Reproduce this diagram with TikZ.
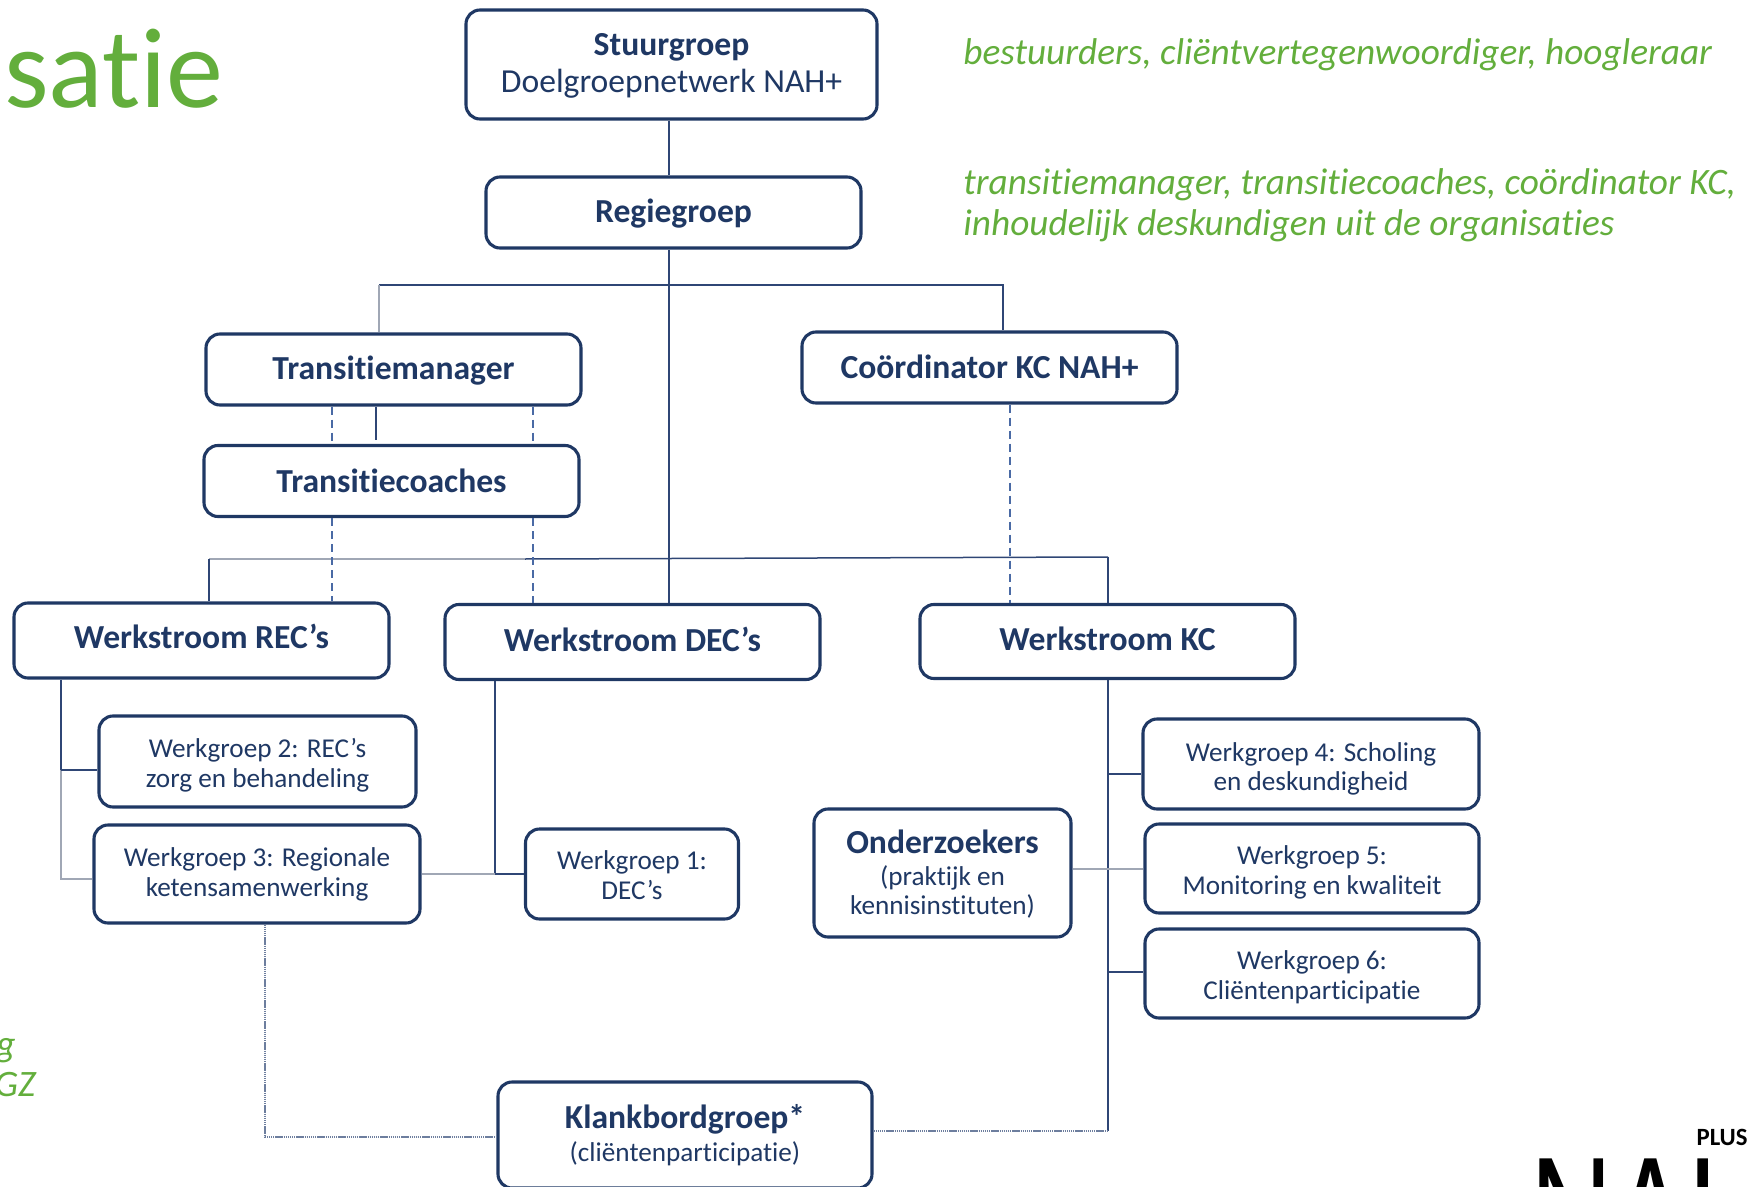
\documentclass[tikz,border=0pt]{standalone}
\usepackage{fontspec}
\setmainfont{Carlito}[RawFeature=-liga]
\newfontfamily\logofont{Liberation Sans}
\definecolor{navy}{HTML}{1F3864}
\definecolor{linec}{HTML}{2F4675}
\definecolor{lineg}{HTML}{A0A7B5}
\definecolor{dashc}{HTML}{4A6AA5}
\definecolor{groen}{HTML}{63AE3C}
% #1: how far the text is moved up inside its box, #2: the lines of text
\newcommand{\boxtext}[2]{\raisebox{0pt}[\dimexpr 8pt-#1+4pt\relax][\dimexpr 8pt+#1-4pt\relax]{\begin{tabular}{@{}c@{}}#2\end{tabular}}}
\tikzset{
  box/.style={draw=navy,line width=1.55pt,rounded corners=7pt,fill=white,text=navy,align=center,inner sep=0pt},
  big/.style={box,font=\fontsize{16.8}{18.5}\selectfont},
  small/.style={box,font=\fontsize{13.6}{14.8}\selectfont},
  conn/.style={draw=linec,line width=0.75pt},
  conngray/.style={draw=lineg,line width=0.9pt},
  dashconn/.style={draw=dashc,line width=0.6pt,dash pattern=on 4pt off 2.5pt},
  dotconn/.style={draw=linec!70,line width=0.7pt,dash pattern=on 0.7pt off 0.35pt},
  note/.style={text=groen,anchor=base west,inner sep=0pt,font=\fontsize{18.65}{21}\selectfont\itshape},
  size/.style 2 args={minimum width=#1*0.5pt,minimum height=#2*0.5pt},
}
\newcommand{\bigtxt}{\fontsize{16.8}{18.5}\selectfont\bfseries}
\begin{document}
\begin{tikzpicture}[x=0.5pt,y=-0.5pt]
\useasboundingbox (0,0) rectangle (1749,1187);
\begin{scope}
\clip (0,0) rectangle (1749,1187);
% boxes
\node[big,size={411}{109}] (stuur) at (671.5,64.5) {\boxtext{-1.6pt}{\textbf{Stuurgroep}\\Doelgroepnetwerk NAH+}};
\node[big,size={375}{71}] (regie) at (673.5,212.5) {\boxtext{-1.7pt}{\textbf{Regiegroep}}};
\node[big,size={375}{71}] (mgr) at (393.5,369.5) {\boxtext{-1.7pt}{\textbf{Transitiemanager}}};
\node[big,size={375}{71}] (coach) at (391.5,481) {\boxtext{-2.2pt}{\textbf{Transitiecoaches}}};
\node[big,size={375}{71}] (coord) at (989.5,367.5) {\boxtext{-2.2pt}{\textbf{Coördinator KC NAH+}}};
\node[big,size={375}{75}] (rec) at (201.5,640.5) {\boxtext{-0.8pt}{\textbf{Werkstroom REC’s}}};
\node[big,size={375}{75}] (dec) at (632.5,642) {\boxtext{-1.2pt}{\textbf{Werkstroom DEC’s}}};
\node[big,size={375}{74}] (kc) at (1107.5,641.5) {\boxtext{-1.2pt}{\textbf{Werkstroom KC}}};
\node[small,size={317}{91}] (wgb) at (257.5,761.5) {\boxtext{-2pt}{Werkgroep 2: REC’s\\zorg en behandeling}};
\node[small,size={326}{98}] (wgc) at (257,874) {\boxtext{-0.5pt}{Werkgroep 3: Regionale\\ketensamenwerking}};
\node[small,size={213}{90}] (wga) at (632,874) {\boxtext{-2pt}{Werkgroep 1:\\DEC’s}};
\node[small,size={257}{128}] (onder) at (942.5,873) {\boxtext{-1.5pt}{{\bigtxt Onderzoekers}\\[1pt](praktijk en\\kennisinstituten)}};
\node[small,size={336}{90}] (wgd) at (1311,764) {\boxtext{-2.6pt}{Werkgroep 4: Scholing\\en deskundigheid}};
\node[small,size={334}{89}] (wge) at (1312,868.5) {\boxtext{-2pt}{Werkgroep 5:\\Monitoring en kwaliteit}};
\node[small,size={334}{89}] (wgf) at (1312,973.5) {\boxtext{-2pt}{Werkgroep 6:\\Cliëntenparticipatie}};
\node[small,size={374}{106}] (klank) at (685,1135) {\boxtext{-0.8pt}{{\bigtxt Klankbordgroep*}\\[1.3pt](cliëntenparticipatie)}};
% junction coordinates
\coordinate (vmid) at (669,285);
\coordinate (tl) at (379,285);
\coordinate (tr) at (1003,285);
\coordinate (wmid) at (669,559);
\coordinate (wl) at (209,559);
\coordinate (wr) at (1108,557);
\coordinate (wg) at (525,559);
\coordinate (ms) at (376,440);
\coordinate (da) at (332,0);
\coordinate (db) at (533,0);
\coordinate (dc) at (1010,0);
\coordinate (rv) at (61,0);
\coordinate (rb) at (61,770);
\coordinate (rc) at (61,879);
\coordinate (dv) at (495,874);
\coordinate (kv) at (1108,1131);
\coordinate (kd) at (1108,774);
\coordinate (ke) at (1108,869);
\coordinate (kf) at (1108,972);
\coordinate (lv) at (265,1137);
% solid connectors
\draw[conn] (vmid |- stuur.south) -- (vmid |- regie.north);
\draw[conn] (vmid |- regie.south) -- (vmid |- dec.north);
\draw[conn] (tl) -- (tr) -- (tr |- coord.north);
\draw[conngray] (tl) -- (tl |- mgr.north);
\draw[conn] (ms |- mgr.south) -- (ms);
\draw[conngray] (wl) -- (wg);
\draw[conn] (wg) -- (wr);
\draw[conn] (wl) -- (wl |- rec.north);
\draw[conn] (wr) -- (wr |- kc.north);
\draw[conn] (rv |- rec.south) -- (rb);
\draw[conngray] (rb) -- (rc) -- (rc -| wgc.west);
\draw[conn] (rb) -- (rb -| wgb.west);
\draw[conn] (dv |- dec.south) -- (dv);
\draw[conngray] (dv) -- (dv -| wgc.east);
\draw[conn] (dv) -- (dv -| wga.west);
\draw[conn] (kd |- kc.south) -- (kv);
\draw[conn] (kd) -- (kd -| wgd.west);
\draw[conngray] (ke -| onder.east) -- (ke -| wge.west);
\draw[conn] (kf) -- (kf -| wgf.west);
% dashed connectors
\draw[dashconn] (da |- mgr.south) -- (da |- coach.north);
\draw[dashconn] (db |- mgr.south) -- (db |- coach.north);
\draw[dashconn] (da |- coach.south) -- (da |- rec.north);
\draw[dashconn] (db |- coach.south) -- (db |- dec.north);
\draw[dashconn] (dc |- coord.south) -- (dc |- kc.north);
% dotted connectors
\draw[dotconn] (lv |- wgc.south) -- (lv) -- (lv -| klank.west);
\draw[dotconn] (klank.east |- kv) -- (kv);
% title and notes
\node[text=groen,anchor=base west,inner sep=0pt,font=\fontsize{57}{60}\selectfont] (titel) at (4,108) {satie};
\node[note] (n1) at (963,65) {bestuurders, cliëntvertegenwoordiger, hoogleraar};
\node[note] (n2) at (963,195) {transitiemanager, transitiecoaches, coördinator KC,};
\node[note] (n3) at (963,236) {inhoudelijk deskundigen uit de organisaties};
\node[note,anchor=base east] (n4) at (16,1056) {g};
\node[note,anchor=base east] (n5) at (36,1096) {GZ};
% logo
\node[anchor=base east,inner sep=0pt,font=\bfseries\fontsize{12.4}{12.4}\selectfont] (plus) at (1748,1145) {PLUS};
\node[anchor=base west,inner sep=0pt,font=\logofont\fontsize{57}{57}\selectfont] (nah) at (1530,1276) {\scalebox{1}[1.5]{NAH}};
\end{scope}
\end{tikzpicture}
\end{document}
